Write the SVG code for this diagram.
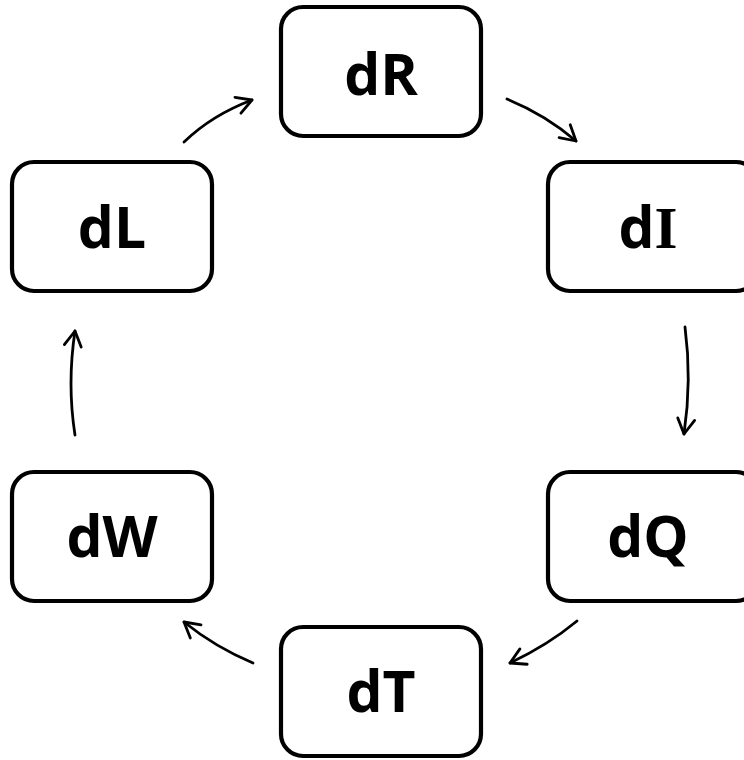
<svg xmlns="http://www.w3.org/2000/svg" width="744" height="760" viewBox="0 0 744 760">
<style>
.box{fill:#fff;stroke:#000;stroke-width:4.2}
.lbl{font-family:"Open Sans","Liberation Sans",sans-serif;font-weight:bold;font-size:57px;text-anchor:middle;fill:#000}
.ser{font-family:"Liberation Serif",serif;font-weight:bold;font-size:59px}
.con{fill:none;stroke:#000;stroke-width:2.8;stroke-linecap:round}
</style>
<defs>
<marker id="ah" viewBox="-18 -11 20 22" refX="0" refY="0" markerWidth="20" markerHeight="22" markerUnits="userSpaceOnUse" orient="auto">
<path d="M-15,-8.5 L0,0 L-15,8.5" fill="none" stroke="#000" stroke-width="2.8" stroke-linecap="round" stroke-linejoin="round"/>
</marker>
</defs>
<g id="connectors">
<path class="con" marker-end="url(#ah)" d="M184,142 Q212,115 252,100"/>
<path class="con" marker-end="url(#ah)" d="M507,99 Q546,115 576,141"/>
<path class="con" marker-end="url(#ah)" d="M685,327 Q692,380 684,434"/>
<path class="con" marker-end="url(#ah)" d="M577,621 Q548,645 510,663"/>
<path class="con" marker-end="url(#ah)" d="M253,663 Q215,647 184,622"/>
<path class="con" marker-end="url(#ah)" d="M75,435 Q67,384 75,331"/>
</g>
<g id="dR"><rect class="box" x="281" y="7" width="200" height="129" rx="22"/><text class="lbl" x="381" y="95">dR</text></g>
<g id="dI"><rect class="box" x="548" y="162" width="210" height="129" rx="22"/><text class="lbl" x="648" y="248">d<tspan class="ser">I</tspan></text></g>
<g id="dQ"><rect class="box" x="548" y="472" width="210" height="129" rx="22"/><text class="lbl" x="648" y="557">dQ</text></g>
<g id="dT"><rect class="box" x="281" y="627" width="200" height="129" rx="22"/><text class="lbl" x="381" y="712">dT</text></g>
<g id="dW"><rect class="box" x="12" y="472" width="200" height="129" rx="22"/><text class="lbl" x="112" y="557">dW</text></g>
<g id="dL"><rect class="box" x="12" y="162" width="200" height="129" rx="22"/><text class="lbl" x="112" y="248">dL</text></g>
</svg>
